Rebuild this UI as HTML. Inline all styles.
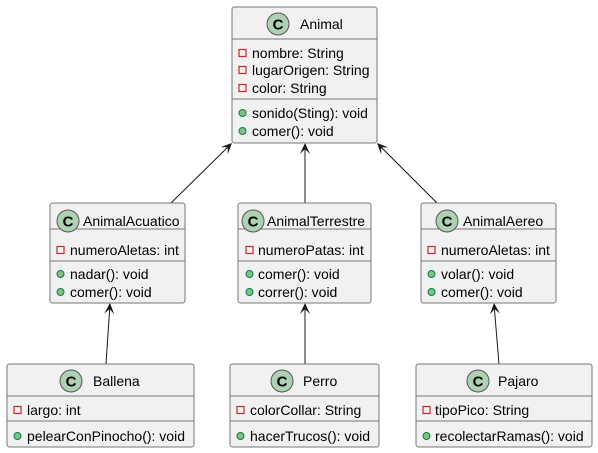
<!DOCTYPE html>
<html><head><meta charset="utf-8"><style>
html,body{margin:0;padding:0;background:#fff;}
svg{display:block;font-family:"Liberation Sans",sans-serif;}
.b{fill:#F1F1F1;stroke:#777;stroke-width:1;}
.s{stroke:#777;stroke-width:1;}
.t{font-size:14px;fill:#000;}
.c{fill:#ADD1B2;stroke:#555;stroke-width:1;}
.ct{font-size:15px;font-weight:bold;fill:#000;}
.pr{fill:none;stroke:#C82930;stroke-width:1.2;}
.pu{fill:#84BE84;stroke:#038048;stroke-width:1;}
.e{stroke:#181818;stroke-width:1;fill:none;}
.h{fill:#181818;}
</style></head><body>
<svg width="598" height="453" viewBox="0 0 598 453" xmlns="http://www.w3.org/2000/svg">
<!-- edges -->
<line class="e" x1="171" y1="203" x2="231" y2="144"/>
<line class="e" x1="305" y1="203" x2="305" y2="144"/>
<line class="e" x1="437" y1="203" x2="378" y2="144"/>
<line class="e" x1="106" y1="364" x2="110" y2="304"/>
<line class="e" x1="305" y1="364" x2="305" y2="304"/>
<line class="e" x1="499" y1="364" x2="494" y2="304"/>
<g class="h">
<path d="M0,0 L-11,-5 L-6,0 L-11,5 Z" transform="translate(232,143) rotate(-44.5)"/>
<path d="M0,0 L-11,-5 L-6,0 L-11,5 Z" transform="translate(305,143) rotate(-90)"/>
<path d="M0,0 L-11,-5 L-6,0 L-11,5 Z" transform="translate(377,143) rotate(-134.5)"/>
<path d="M0,0 L-11,-5 L-6,0 L-11,5 Z" transform="translate(110,303) rotate(-86)"/>
<path d="M0,0 L-11,-5 L-6,0 L-11,5 Z" transform="translate(305,303) rotate(-90)"/>
<path d="M0,0 L-11,-5 L-6,0 L-11,5 Z" transform="translate(494,303) rotate(-94.7)"/>
</g>

<!-- Animal -->
<rect class="b" x="232" y="7" width="145" height="136" rx="2.5"/>
<line class="s" x1="232" y1="39" x2="377" y2="39"/>
<line class="s" x1="232" y1="99" x2="377" y2="99"/>
<circle class="c" cx="278" cy="24" r="11"/><text class="ct" x="278" y="29.5" text-anchor="middle">C</text>
<text class="t" x="300" y="29">Animal</text>
<rect class="pr" x="239" y="49.5" width="7" height="7"/><text class="t" x="252" y="58">nombre: String</text>
<rect class="pr" x="239" y="66.5" width="7" height="7"/><text class="t" x="252" y="75">lugarOrigen: String</text>
<rect class="pr" x="239" y="84.5" width="7" height="7"/><text class="t" x="252" y="93">color: String</text>
<circle class="pu" cx="242.5" cy="113" r="3.5"/><text class="t" x="252" y="118">sonido(Sting): void</text>
<circle class="pu" cx="242.5" cy="131" r="3.5"/><text class="t" x="252" y="136">comer(): void</text>

<!-- AnimalAcuatico -->
<rect class="b" x="50" y="203" width="135" height="100" rx="2.5"/>
<line class="s" x1="50" y1="229" x2="185" y2="229"/>
<line class="s" x1="50" y1="261" x2="185" y2="261"/>
<circle class="c" cx="68" cy="221" r="11"/><text class="ct" x="68" y="226.5" text-anchor="middle">C</text>
<text class="t" x="83" y="226">AnimalAcuatico</text>
<rect class="pr" x="57" y="246.5" width="7" height="7"/><text class="t" x="70" y="255">numeroAletas: int</text>
<circle class="pu" cx="60.5" cy="274" r="3.5"/><text class="t" x="70" y="279">nadar(): void</text>
<circle class="pu" cx="60.5" cy="292" r="3.5"/><text class="t" x="70" y="297">comer(): void</text>

<!-- AnimalTerrestre -->
<rect class="b" x="238" y="203" width="133" height="100" rx="2.5"/>
<line class="s" x1="238" y1="229" x2="371" y2="229"/>
<line class="s" x1="238" y1="261" x2="371" y2="261"/>
<circle class="c" cx="253" cy="221" r="11"/><text class="ct" x="253" y="226.5" text-anchor="middle">C</text>
<text class="t" x="267" y="226">AnimalTerrestre</text>
<rect class="pr" x="246" y="246.5" width="7" height="7"/><text class="t" x="258" y="255">numeroPatas: int</text>
<circle class="pu" cx="249.5" cy="274" r="3.5"/><text class="t" x="258" y="279">comer(): void</text>
<circle class="pu" cx="249.5" cy="292" r="3.5"/><text class="t" x="258" y="297">correr(): void</text>

<!-- AnimalAereo -->
<rect class="b" x="421" y="203" width="135" height="100" rx="2.5"/>
<line class="s" x1="421" y1="229" x2="556" y2="229"/>
<line class="s" x1="421" y1="261" x2="556" y2="261"/>
<circle class="c" cx="447" cy="221" r="11"/><text class="ct" x="447" y="226.5" text-anchor="middle">C</text>
<text class="t" x="463" y="226">AnimalAereo</text>
<rect class="pr" x="428" y="246.5" width="7" height="7"/><text class="t" x="441" y="255">numeroAletas: int</text>
<circle class="pu" cx="431.5" cy="274" r="3.5"/><text class="t" x="441" y="279">volar(): void</text>
<circle class="pu" cx="431.5" cy="292" r="3.5"/><text class="t" x="441" y="297">comer(): void</text>

<!-- Ballena -->
<rect class="b" x="7" y="364" width="187" height="83" rx="2.5"/>
<line class="s" x1="7" y1="396" x2="194" y2="396"/>
<line class="s" x1="7" y1="421" x2="194" y2="421"/>
<circle class="c" cx="71" cy="381" r="11"/><text class="ct" x="71" y="386.5" text-anchor="middle">C</text>
<text class="t" x="93" y="386">Ballena</text>
<rect class="pr" x="14" y="406.5" width="7" height="7"/><text class="t" x="27" y="415">largo: int</text>
<circle class="pu" cx="17.5" cy="436" r="3.5"/><text class="t" x="27" y="441">pelearConPinocho(): void</text>

<!-- Perro -->
<rect class="b" x="230" y="364" width="149" height="83" rx="2.5"/>
<line class="s" x1="230" y1="396" x2="379" y2="396"/>
<line class="s" x1="230" y1="421" x2="379" y2="421"/>
<circle class="c" cx="282" cy="381" r="11"/><text class="ct" x="282" y="386.5" text-anchor="middle">C</text>
<text class="t" x="303" y="386">Perro</text>
<rect class="pr" x="237" y="406.5" width="7" height="7"/><text class="t" x="250" y="415">colorCollar: String</text>
<circle class="pu" cx="240.5" cy="436" r="3.5"/><text class="t" x="250" y="441">hacerTrucos(): void</text>

<!-- Pajaro -->
<rect class="b" x="416" y="364" width="176" height="83" rx="2.5"/>
<line class="s" x1="416" y1="396" x2="592" y2="396"/>
<line class="s" x1="416" y1="421" x2="592" y2="421"/>
<circle class="c" cx="478" cy="381" r="11"/><text class="ct" x="478" y="386.5" text-anchor="middle">C</text>
<text class="t" x="498" y="386">Pajaro</text>
<rect class="pr" x="423" y="406.5" width="7" height="7"/><text class="t" x="435" y="415">tipoPico: String</text>
<circle class="pu" cx="426.5" cy="436" r="3.5"/><text class="t" x="435" y="441">recolectarRamas(): void</text>
</svg>
</body></html>
